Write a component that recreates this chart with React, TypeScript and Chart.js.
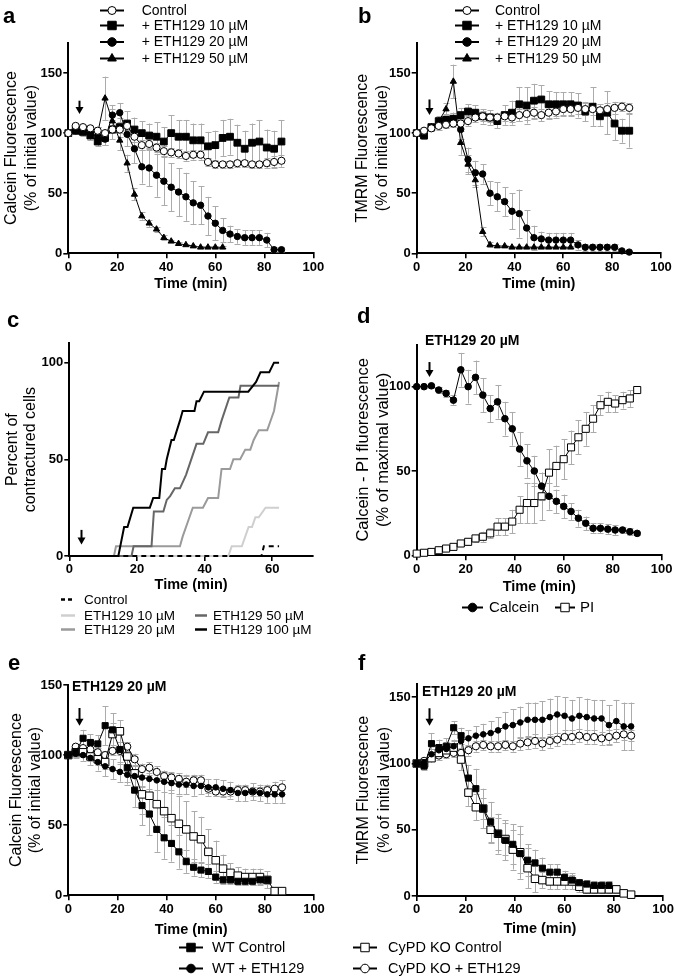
import React, { useEffect, useRef } from 'react';
import { Chart, registerables } from 'chart.js';

Chart.register(...registerables);

const FONT = '"Liberation Sans", Arial, Helvetica, sans-serif';

// ---------- shared time grids (min) ----------
const time87 = [0, 3, 6, 9, 12, 15, 18, 21, 24, 27, 30, 33, 36, 39, 42, 45, 48, 51, 54, 57, 60, 63, 66, 69, 72, 75, 78, 81, 84, 87];
const time90 = [0, 3, 6, 9, 12, 15, 18, 21, 24, 27, 30, 33, 36, 39, 42, 45, 48, 51, 54, 57, 60, 63, 66, 69, 72, 75, 78, 81, 84, 87, 90];

// ---------- panel a : Calcein ----------
const aControl = [100, 106, 105, 104, 102, 100, 103, 103, 106, 97, 90, 91, 88, 85, 84, 83, 81, 82, 82, 76, 74, 74, 74, 75, 75, 74, 74, 75, 76, 77];
const aControlErr = [0, 2, 2, 2, 3, 3, 3, 3, 3, 4, 4, 4, 4, 4, 4, 4, 4, 4, 4, 3, 3, 3, 3, 3, 3, 3, 3, 4, 5, 5];
const aEth10 = [100, 102, 101, 98, 93, 96, 103, 105, 108, 103, 100, 98, 97, 93, 100, 97, 97, 94, 94, 89, 90, 96, 97, 92, 87, 92, 93, 88, 87, 93];
const aEth10Err = [0, 3, 3, 4, 4, 6, 8, 8, 10, 10, 10, 10, 12, 12, 15, 14, 14, 14, 14, 12, 12, 15, 15, 15, 15, 16, 18, 15, 15, 18];
const aEth20 = [100, 102, 102, 99, 97, 95, 115, 117, 99, 87, 72, 71, 65, 60, 55, 51, 47, 42, 40, 31, 25, 19, 16, 14, 13, 13, 13, 11, 3, 3];
const aEth20Err = [0, 3, 3, 3, 4, 5, 8, 8, 10, 12, 14, 15, 18, 20, 20, 20, 20, 18, 16, 16, 14, 10, 7, 6, 6, 6, 6, 6, 2, 2];
const aEth50 = [100, 103, 103, 102, 100, 129, 110, 94, 75, 49, 31, 25, 20, 13, 10, 8, 7, 6, 5, 5, 5, 5];
const aEth50Err = [0, 2, 2, 3, 5, 18, 10, 8, 7, 5, 3, 3, 2, 2, 1, 1, 1, 1, 1, 1, 1, 1];

// ---------- panel b : TMRM ----------
const bControl = [100, 102, 104, 106, 107, 108, 108, 110, 113, 114, 113, 113, 114, 113, 115, 116, 117, 115, 117, 118, 120, 120, 121, 120, 120, 119, 120, 121, 122, 121];
const bControlErr = [0, 2, 2, 3, 3, 3, 4, 4, 4, 4, 4, 4, 4, 4, 5, 5, 5, 5, 5, 5, 5, 5, 5, 5, 5, 5, 5, 5, 4, 4];
const bEth10 = [100, 98, 105, 110, 111, 112, 115, 118, 117, 114, 113, 110, 115, 117, 124, 123, 127, 128, 124, 124, 124, 124, 123, 118, 122, 114, 117, 108, 102, 102];
const bEth10Err = [0, 3, 3, 4, 5, 5, 6, 6, 6, 6, 6, 6, 8, 10, 14, 15, 14, 12, 11, 10, 10, 10, 10, 8, 16, 8, 18, 14, 10, 14];
const bEth20 = [100, 100, 104, 108, 110, 112, 103, 78, 67, 66, 50, 47, 43, 35, 33, 21, 13, 12, 11, 11, 11, 11, 7, 5, 5, 5, 5, 5, 2, 1];
const bEth20Err = [0, 2, 2, 3, 4, 5, 8, 10, 10, 8, 10, 12, 12, 15, 20, 15, 10, 6, 6, 6, 6, 6, 4, 3, 3, 3, 3, 3, 1, 1];
const bEth50 = [100, 98, 105, 110, 120, 143, 92, 74, 61, 18, 7, 6, 6, 5, 5, 5, 5, 5, 5, 5, 5, 5];
const bEth50Err = [0, 2, 2, 3, 5, 14, 10, 8, 6, 4, 2, 1, 1, 1, 1, 1, 1, 1, 1, 1, 1, 1];

// ---------- panel c : percent of contractured cells ----------
const cControlT = [0, 56.8, 57.5, 62];
const cControlV = [0, 0, 5, 5];
const cEth10T = [0, 47, 48, 51, 52, 53, 54, 55, 56, 58, 62];
const cEth10V = [0, 0, 5, 5, 10, 15, 15, 20, 20, 25, 25];
const cEth20T = [0, 13.2, 13.8, 32.7, 33.5, 34.5, 36.5, 39.5, 41, 44, 45, 47.5, 48.5, 50.5, 52, 53.5, 54.5, 56, 58.5, 60.5, 62];
const cEth20V = [0, 0, 5, 5, 10, 15, 25, 25, 30, 30, 45, 45, 50, 50, 55, 55, 60, 65, 65, 75, 90];
const cEth50T = [0, 18.4, 19, 24.3, 25, 27.8, 28.8, 29.8, 31.2, 32.7, 34.5, 37.6, 39.6, 41, 44, 45, 47.3, 50, 50.6, 62];
const cEth50V = [0, 0, 5, 5, 23, 23, 29, 31, 35, 35, 42, 58, 58, 64, 64, 70, 82, 82, 88, 88];
const cEth100T = [0, 14.5, 16.2, 17.2, 18.9, 23.8, 24.8, 26.6, 27.4, 28.3, 28.8, 30.2, 30.9, 32.7, 33.5, 37, 37.6, 38.4, 39.8, 52.9, 55.2, 56.5, 59.1, 60.5, 62];
const cEth100V = [0, 0, 15, 15, 25, 25, 30, 30, 45, 45, 50, 60, 60, 70, 75, 75, 80, 80, 85, 85, 90, 95, 95, 100, 100];

// ---------- panel d : Calcein vs PI ----------
const dCalcein = [100, 100, 100.5, 98, 96, 92, 110, 100, 105.5, 95, 87, 91, 81, 75, 63, 56, 50, 41, 35, 32, 29, 26, 22, 19, 16, 16, 15.5, 15, 15, 14, 13];
const dCalceinErr = [0, 1, 1, 2, 2, 3, 10, 10, 10, 10, 8, 10, 10, 10, 10, 10, 9, 8, 8, 7, 7, 5, 5, 4, 3, 3, 3, 3, 2, 2, 1];
const dPI = [1, 1.5, 2, 3, 4, 5, 7, 8, 10, 11, 13, 17, 17, 20, 27, 31, 31, 35, 49, 53, 57, 64, 70, 75, 81, 89, 91, 90, 92, 93, 98];
const dPIErr = [0, 0.5, 1, 1, 1, 1, 1.5, 2, 2, 3, 3, 5, 5, 7, 8, 12, 12, 14, 14, 12, 12, 10, 10, 10, 8, 6, 6, 5, 5, 5, 0];

// ---------- panel e : Calcein, WT vs CyPD KO ----------
const eWTControl = [100, 102, 112, 109, 108, 121, 118, 104, 91, 75, 64, 58, 47, 41, 37, 31, 24, 20, 18, 17, 13, 11, 11, 10, 10, 10, 11, 11];
const eWTControlErr = [0, 3, 6, 6, 6, 14, 12, 10, 10, 12, 14, 15, 16, 15, 13, 12, 8, 6, 5, 5, 4, 3, 3, 3, 3, 3, 3, 3];
const eWTEth = [100, 101, 100, 98, 95, 92, 90, 88, 86, 85, 84, 83, 82, 81, 80, 79, 79, 78, 78, 77, 77, 76, 75, 73, 73, 74, 73, 72, 72, 72];
const eWTEthErr = [0, 3, 4, 5, 6, 7, 7, 7, 7, 7, 7, 7, 7, 7, 7, 7, 7, 7, 6, 6, 6, 6, 6, 6, 6, 6, 6, 6, 6, 6];
const eKOControl = [100, 102, 102, 99, 97, 95, 115, 117, 99, 87, 72, 71, 65, 60, 55, 51, 47, 42, 40, 31, 25, 19, 16, 14, 13, 13, 13, 11, 3, 3];
const eKOControlErr = [0, 3, 3, 3, 4, 5, 8, 8, 10, 12, 14, 15, 18, 20, 20, 20, 20, 18, 16, 16, 14, 10, 7, 6, 6, 6, 6, 6, 2, 2];
const eKOEth = [100, 106, 105, 104, 102, 100, 103, 103, 106, 97, 90, 91, 88, 85, 84, 83, 81, 82, 82, 76, 74, 74, 74, 75, 75, 74, 74, 75, 76, 77];
const eKOEthErr = [0, 2, 2, 2, 3, 3, 3, 3, 3, 4, 4, 4, 4, 4, 4, 4, 4, 4, 4, 3, 3, 3, 3, 3, 3, 3, 3, 4, 5, 5];

// ---------- panel f : TMRM, WT vs CyPD KO ----------
const fWTControl = [100, 98, 115, 112, 113, 127, 121, 89, 81, 66, 56, 47, 42, 39, 32, 27, 25, 21, 18, 18, 14, 12, 10, 9, 8, 8, 8];
const fWTControlErr = [0, 3, 8, 6, 6, 5, 6, 10, 15, 15, 15, 15, 15, 15, 15, 12, 10, 8, 6, 6, 5, 4, 3, 3, 3, 3, 3];
const fWTEth = [100, 101, 107, 110, 111, 113, 117, 119, 121, 122, 123, 125, 128, 129, 131, 133, 133, 133, 135, 137, 136, 134, 136, 135, 134, 134, 129, 132, 128, 128];
const fWTEthErr = [0, 3, 4, 5, 5, 5, 6, 6, 7, 8, 9, 10, 11, 12, 12, 13, 13, 14, 14, 14, 14, 14, 14, 14, 14, 14, 15, 16, 18, 18];
const fKOControl = [100, 100, 104, 108, 110, 112, 103, 78, 67, 66, 50, 47, 43, 35, 33, 21, 13, 12, 11, 11, 11, 11, 7, 5, 5, 5, 5, 5, 2, 1];
const fKOControlErr = [0, 2, 2, 3, 4, 5, 8, 10, 10, 8, 10, 12, 12, 15, 20, 15, 10, 6, 6, 6, 6, 6, 4, 3, 3, 3, 3, 3, 1, 1];
const fKOEth = [100, 102, 104, 106, 107, 108, 108, 110, 113, 114, 113, 113, 114, 113, 115, 116, 117, 115, 117, 118, 120, 120, 121, 120, 120, 119, 120, 121, 122, 121];
const fKOEthErr = [0, 2, 2, 3, 3, 3, 4, 4, 4, 4, 4, 4, 4, 4, 5, 5, 5, 5, 5, 5, 5, 5, 5, 5, 5, 5, 5, 5, 4, 4];

// ---------- tick values ----------
const xTicks100 = [0, 20, 40, 60, 80, 100];
const xTicks60 = [0, 20, 40, 60];
const yTicks150 = [0, 50, 100, 150];
const yTicks100 = [0, 50, 100];

// ---------- helpers ----------
type MarkerStyle = 'circle' | 'rect' | 'triangle';

function drawMarker(ctx: CanvasRenderingContext2D, style: MarkerStyle, fill: boolean, r: number, x: number, y: number) {
  ctx.beginPath();
  if (style === 'circle') {
    ctx.arc(x, y, r, 0, Math.PI * 2);
  } else if (style === 'rect') {
    const s = r * Math.SQRT1_2;
    ctx.rect(x - s, y - s, 2 * s, 2 * s);
  } else {
    ctx.moveTo(x, y - r);
    ctx.lineTo(x + r * 0.866, y + r * 0.5);
    ctx.lineTo(x - r * 0.866, y + r * 0.5);
    ctx.closePath();
  }
  ctx.fillStyle = fill ? '#000' : '#fff';
  ctx.fill();
  ctx.lineWidth = 1;
  ctx.strokeStyle = '#000';
  ctx.stroke();
}

const errorBarPlugin = {
  id: 'errorBars',
  beforeDatasetsDraw(chart: any) {
    const ctx = chart.ctx as CanvasRenderingContext2D;
    const ys = chart.scales.y;
    chart.data.datasets.forEach((ds: any, i: number) => {
      const errs: number[] | undefined = ds.errorBars;
      if (!errs) return;
      const meta = chart.getDatasetMeta(i);
      ctx.save();
      ctx.strokeStyle = '#ababab';
      ctx.lineWidth = 1;
      meta.data.forEach((pt: any, j: number) => {
        const e = errs[j];
        if (!e) return;
        const v = ds.data[j].y;
        const x = Math.round(pt.x) + 0.5;
        const y1 = ys.getPixelForValue(v + e);
        const y2 = ys.getPixelForValue(v - e);
        ctx.beginPath();
        ctx.moveTo(x, y1);
        ctx.lineTo(x, y2);
        ctx.moveTo(x - 3, Math.round(y1) + 0.5);
        ctx.lineTo(x + 3, Math.round(y1) + 0.5);
        ctx.moveTo(x - 3, Math.round(y2) + 0.5);
        ctx.lineTo(x + 3, Math.round(y2) + 0.5);
        ctx.stroke();
      });
      ctx.restore();
    });
  },
};

const decorPlugin = {
  id: 'decor',
  afterDraw(chart: any, _args: any, opts: any) {
    const ctx = chart.ctx as CanvasRenderingContext2D;
    const xs = chart.scales.x;
    const ys = chart.scales.y;
    ctx.save();
    ctx.fillStyle = '#000';
    if (opts.letter) {
      ctx.font = `bold 22px ${FONT}`;
      ctx.textAlign = 'left';
      ctx.textBaseline = 'alphabetic';
      ctx.fillText(opts.letter.text, opts.letter.x, opts.letter.y);
    }
    if (opts.note) {
      ctx.font = `bold 14px ${FONT}`;
      ctx.textAlign = 'left';
      ctx.textBaseline = 'middle';
      ctx.fillStyle = '#000';
      ctx.fillText(opts.note.text, opts.note.x, opts.note.y);
    }
    if (opts.arrow) {
      const ax = Math.round(xs.getPixelForValue(opts.arrow.x)) + 0.5;
      const y1 = ys.getPixelForValue(opts.arrow.from);
      const y2 = ys.getPixelForValue(opts.arrow.to);
      ctx.strokeStyle = '#000';
      ctx.lineWidth = 2;
      ctx.beginPath();
      ctx.moveTo(ax, y1);
      ctx.lineTo(ax, y2 - 5);
      ctx.stroke();
      ctx.fillStyle = '#000';
      ctx.beginPath();
      ctx.moveTo(ax - 4, y2 - 7);
      ctx.lineTo(ax + 4, y2 - 7);
      ctx.lineTo(ax, y2);
      ctx.closePath();
      ctx.fill();
    }
    const items: any[] = opts.items || [];
    items.forEach((it) => {
      ctx.save();
      ctx.strokeStyle = it.color || '#000';
      ctx.lineWidth = it.lw || 2;
      ctx.setLineDash(it.dash ? [4, 3] : []);
      ctx.beginPath();
      ctx.moveTo(it.x1, it.y + 0.5);
      ctx.lineTo(it.x2, it.y + 0.5);
      ctx.stroke();
      ctx.setLineDash([]);
      if (it.marker) {
        drawMarker(ctx, it.marker, !!it.fill, it.r, (it.x1 + it.x2) / 2, it.y + 0.5);
      }
      ctx.fillStyle = '#000';
      ctx.font = `${it.size}px ${FONT}`;
      ctx.textAlign = 'left';
      ctx.textBaseline = 'middle';
      ctx.fillText(it.text, it.tx, it.y + 1);
      ctx.restore();
    });
    ctx.restore();
  },
};

function series(label: string, times: number[], vals: number[], errs: number[] | null, style: MarkerStyle, fill: boolean, r: number) {
  return {
    label,
    data: vals.map((v, i) => ({ x: times[i], y: v })),
    errorBars: errs,
    borderColor: '#000',
    borderWidth: 1,
    pointStyle: style,
    pointRadius: r,
    pointBackgroundColor: fill ? '#000' : '#fff',
    pointBorderColor: '#000',
    pointBorderWidth: 1,
    tension: 0,
    fill: false,
    clip: false,
  };
}

function stepSeries(label: string, times: number[], vals: number[], color: string, dashed: boolean) {
  return {
    label,
    data: vals.map((v, i) => ({ x: times[i], y: v })),
    borderColor: color,
    borderWidth: 2,
    borderDash: dashed ? [5, 4] : [],
    pointRadius: 0,
    tension: 0,
    fill: false,
    clip: false,
  };
}

interface PanelCfg {
  w: number;
  h: number;
  area: { left: number; top: number; right: number; bottom: number };
  xTitleY: number;
  xMax: number;
  yMax: number;
  xTicks: number[];
  yTicks: number[];
  yTitle: string[];
  yTitleSize: number;
  yTitleLH: number;
  yTitlePad: number;
  datasets: any[];
  decor: any;
}

function buildConfig(p: PanelCfg): any {
  const xTitleSize = 14.5;
  const xLH = xTitleSize * 1.2;
  const xBoxBottom = p.xTitleY + xLH / 2;
  const tickFont = { family: FONT, size: 13, weight: 'bold' as const };
  const grid = { display: true, drawOnChartArea: false, drawTicks: true, tickLength: 5, color: '#000', lineWidth: 1.6 };
  const border = { display: true, color: '#000', width: 2 };
  return {
    type: 'line',
    data: { datasets: p.datasets },
    plugins: [errorBarPlugin, decorPlugin],
    options: {
      responsive: false,
      maintainAspectRatio: false,
      animation: false,
      devicePixelRatio: 1,
      events: [],
      layout: {
        padding: { left: 0, top: p.area.top, right: p.w - p.area.right, bottom: p.h - xBoxBottom },
      },
      plugins: {
        legend: { display: false },
        tooltip: { enabled: false },
        decor: p.decor,
      },
      scales: {
        x: {
          type: 'linear',
          min: 0,
          max: p.xMax,
          afterBuildTicks: (s: any) => {
            s.ticks = p.xTicks.map((v) => ({ value: v }));
          },
          afterFit: (s: any) => {
            s.height = xBoxBottom - p.area.bottom;
          },
          grid,
          border,
          ticks: { color: '#000', font: tickFont, padding: 1, maxRotation: 0, autoSkip: false },
          title: {
            display: true,
            text: 'Time (min)',
            color: '#000',
            font: { family: FONT, size: xTitleSize, weight: 'bold', lineHeight: 1.2 },
            padding: { top: 0, bottom: 0 },
          },
        },
        y: {
          type: 'linear',
          min: 0,
          max: p.yMax,
          afterBuildTicks: (s: any) => {
            s.ticks = p.yTicks.map((v) => ({ value: v }));
          },
          afterFit: (s: any) => {
            s.width = p.area.left;
          },
          grid,
          border,
          ticks: { color: '#000', font: tickFont, padding: 1, autoSkip: false },
          title: {
            display: true,
            text: p.yTitle,
            color: '#000',
            font: { family: FONT, size: p.yTitleSize, lineHeight: p.yTitleLH },
            padding: { top: p.yTitlePad, bottom: 0 },
          },
        },
      },
    },
  };
}

// ---------- panel configurations ----------
const legendA = (x1: number, x2: number, tx: number) => [
  { text: 'Control', x1, x2, tx, y: 10, marker: 'circle', fill: false, r: 4, size: 14 },
  { text: '+ ETH129 10 µM', x1, x2, tx, y: 25, marker: 'rect', fill: true, r: 6, size: 14 },
  { text: '+ ETH129 20 µM', x1, x2, tx, y: 41.5, marker: 'circle', fill: true, r: 4.3, size: 14 },
  { text: '+ ETH129 50 µM', x1, x2, tx, y: 58, marker: 'triangle', fill: true, r: 5, size: 14 },
];

const panelA: PanelCfg = {
  w: 337, h: 300,
  area: { left: 68.3, top: 43, right: 313.3, bottom: 253.3 },
  xTitleY: 284, xMax: 100, yMax: 175, xTicks: xTicks100, yTicks: yTicks150,
  yTitle: ['Calcein Fluorescence', '(% of initial value)'], yTitleSize: 16, yTitleLH: 1.25, yTitlePad: 2,
  datasets: [
    series('Control', time87, aControl, aControlErr, 'circle', false, 3.6),
    series('+ ETH129 10 µM', time87, aEth10, aEth10Err, 'rect', true, 4.8),
    series('+ ETH129 20 µM', time87, aEth20, aEth20Err, 'circle', true, 3.2),
    series('+ ETH129 50 µM', time87, aEth50, aEth50Err, 'triangle', true, 3.6),
  ],
  decor: {
    letter: { text: 'a', x: 3, y: 23 },
    arrow: { x: 4.4, from: 127, to: 116 },
    items: legendA(100, 124, 141.7),
  },
};

const panelB: PanelCfg = {
  w: 338, h: 300,
  area: { left: 79.7, top: 43, right: 324, bottom: 253.3 },
  xTitleY: 284, xMax: 100, yMax: 175, xTicks: xTicks100, yTicks: yTicks150,
  yTitle: ['TMRM Fluorescence', '(% of initial value)'], yTitleSize: 16, yTitleLH: 1.25, yTitlePad: 16,
  datasets: [
    series('Control', time87, bControl, bControlErr, 'circle', false, 3.6),
    series('+ ETH129 10 µM', time87, bEth10, bEth10Err, 'rect', true, 4.8),
    series('+ ETH129 20 µM', time87, bEth20, bEth20Err, 'circle', true, 3.2),
    series('+ ETH129 50 µM', time87, bEth50, bEth50Err, 'triangle', true, 3.6),
  ],
  decor: {
    letter: { text: 'b', x: 21, y: 23 },
    arrow: { x: 5, from: 128, to: 115 },
    items: legendA(118, 142, 158),
  },
};

const panelC: PanelCfg = {
  w: 337, h: 350,
  area: { left: 69.3, top: 53.3, right: 312.9, bottom: 266 },
  xTitleY: 295, xMax: 72, yMax: 110, xTicks: xTicks60, yTicks: yTicks100,
  yTitle: ['Percent of', 'contractured cells'], yTitleSize: 16, yTitleLH: 1.15, yTitlePad: 3,
  datasets: [
    stepSeries('Control', cControlT, cControlV, '#000000', true),
    stepSeries('ETH129 100 µM', cEth100T, cEth100V, '#000000', false),
    stepSeries('ETH129 50 µM', cEth50T, cEth50V, '#666666', false),
    stepSeries('ETH129 20 µM', cEth20T, cEth20V, '#9a9a9a', false),
    stepSeries('ETH129 10 µM', cEth10T, cEth10V, '#cfcfcf', false),
  ],
  decor: {
    letter: { text: 'c', x: 7, y: 37 },
    arrow: { x: 3.45, from: 13.5, to: 6 },
    items: [
      { text: 'Control', x1: 61, x2: 75, tx: 84, y: 309, color: '#000', dash: true, lw: 2.5, size: 13.5 },
      { text: 'ETH129 10 µM', x1: 61, x2: 75, tx: 84, y: 325, color: '#cfcfcf', lw: 2.5, size: 13.5 },
      { text: 'ETH129 20 µM', x1: 61, x2: 75, tx: 84, y: 339, color: '#9a9a9a', lw: 2.5, size: 13.5 },
      { text: 'ETH129 50 µM', x1: 195, x2: 207, tx: 213, y: 325, color: '#666666', lw: 2.5, size: 13.5 },
      { text: 'ETH129 100 µM', x1: 195, x2: 207, tx: 213, y: 339, color: '#000', lw: 2.5, size: 13.5 },
    ],
  },
};

const panelD: PanelCfg = {
  w: 338, h: 350,
  area: { left: 79.7, top: 54.5, right: 324.7, bottom: 265.3 },
  xTitleY: 297, xMax: 100, yMax: 125, xTicks: xTicks100, yTicks: yTicks100,
  yTitle: ['Calcein - PI fluorescence', '(% of maximal value)'], yTitleSize: 16.5, yTitleLH: 1.22, yTitlePad: 16,
  datasets: [
    series('Calcein', time90, dCalcein, dCalceinErr, 'circle', true, 3.3),
    series('PI', time90, dPI, dPIErr, 'rect', false, 5),
  ],
  decor: {
    letter: { text: 'd', x: 20, y: 33 },
    note: { text: 'ETH129 20 µM', x: 88, y: 51 },
    arrow: { x: 5, from: 114.6, to: 105.7 },
    items: [
      { text: 'Calcein', x1: 125, x2: 146, tx: 152, y: 317, marker: 'circle', fill: true, r: 4.3, size: 15 },
      { text: 'PI', x1: 218, x2: 238, tx: 243, y: 317, marker: 'rect', fill: false, r: 6, size: 15 },
    ],
  },
};

const panelE: PanelCfg = {
  w: 337, h: 339,
  area: { left: 68.3, top: 45, right: 314, bottom: 255.3 },
  xTitleY: 290, xMax: 100, yMax: 150, xTicks: xTicks100, yTicks: yTicks150,
  yTitle: ['Calcein Fluorescence', '(% of initial value)'], yTitleSize: 16, yTitleLH: 1.2, yTitlePad: 7,
  datasets: [
    series('WT Control', time87, eWTControl, eWTControlErr, 'rect', true, 4.3),
    series('WT + ETH129', time87, eWTEth, eWTEthErr, 'circle', true, 2.8),
    series('CyPD KO Control', time87, eKOControl, eKOControlErr, 'rect', false, 5.3),
    series('CyPD KO + ETH129', time87, eKOEth, eKOEthErr, 'circle', false, 3.6),
  ],
  decor: {
    letter: { text: 'e', x: 8, y: 30 },
    note: { text: 'ETH129 20 µM', x: 72, y: 47 },
    arrow: { x: 4.3, from: 133.6, to: 121 },
    items: [
      { text: 'WT Control', x1: 179, x2: 203, tx: 212, y: 307, marker: 'rect', fill: true, r: 6, size: 14.5 },
      { text: 'WT + ETH129', x1: 179, x2: 203, tx: 212, y: 328, marker: 'circle', fill: true, r: 4.3, size: 14.5 },
    ],
  },
};

const panelF: PanelCfg = {
  w: 338, h: 339,
  area: { left: 79.7, top: 44, right: 326.3, bottom: 256 },
  xTitleY: 289, xMax: 100, yMax: 160, xTicks: xTicks100, yTicks: yTicks150,
  yTitle: ['TMRM Fluorescence', '(% of initial value)'], yTitleSize: 16, yTitleLH: 1.3, yTitlePad: 16,
  datasets: [
    series('WT Control', time87, fWTControl, fWTControlErr, 'rect', true, 4.3),
    series('WT + ETH129', time87, fWTEth, fWTEthErr, 'circle', true, 2.8),
    series('CyPD KO Control', time87, fKOControl, fKOControlErr, 'rect', false, 5.3),
    series('CyPD KO + ETH129', time87, fKOEth, fKOEthErr, 'circle', false, 3.6),
  ],
  decor: {
    letter: { text: 'f', x: 21, y: 30 },
    note: { text: 'ETH129 20 µM', x: 85, y: 52 },
    arrow: { x: 5, from: 141.7, to: 128.4 },
    items: [
      { text: 'CyPD KO Control', x1: 16, x2: 40, tx: 51, y: 307, marker: 'rect', fill: false, r: 6, size: 14.5 },
      { text: 'CyPD KO + ETH129', x1: 16, x2: 40, tx: 51, y: 328, marker: 'circle', fill: false, r: 4.3, size: 14.5 },
    ],
  },
};

function Panel({ cfg, left, top }: { cfg: PanelCfg; left: number; top: number }) {
  const ref = useRef<HTMLCanvasElement>(null);
  useEffect(() => {
    if (!ref.current) return;
    const chart = new Chart(ref.current, buildConfig(cfg));
    return () => chart.destroy();
  }, [cfg]);
  return (
    <canvas
      ref={ref}
      width={cfg.w}
      height={cfg.h}
      style={{ position: 'absolute', left, top, width: cfg.w, height: cfg.h, display: 'block' }}
    />
  );
}

export default function App() {
  return (
    <div style={{ position: 'absolute', left: 0, top: 0, width: 675, height: 979, background: '#fff', overflow: 'hidden' }}>
      <Panel cfg={panelC} left={0} top={290} />
      <Panel cfg={panelD} left={337} top={290} />
      <Panel cfg={panelE} left={0} top={640} />
      <Panel cfg={panelF} left={337} top={640} />
      <Panel cfg={panelA} left={0} top={0} />
      <Panel cfg={panelB} left={337} top={0} />
    </div>
  );
}
